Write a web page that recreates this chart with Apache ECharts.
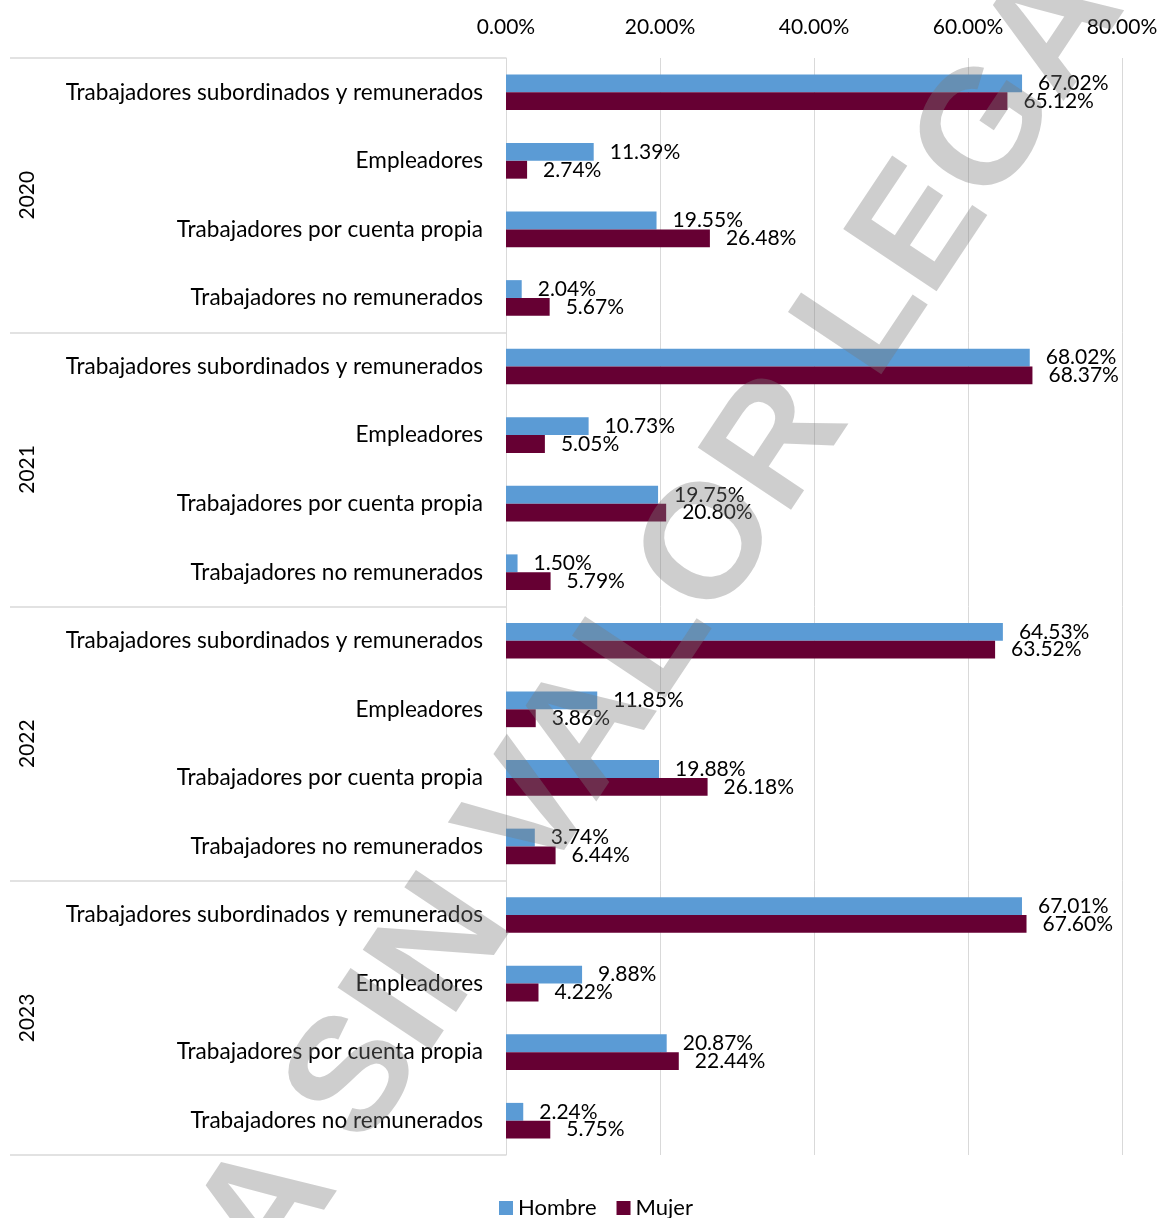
<!DOCTYPE html>
<html>
<head>
<meta charset="utf-8">
<script src="https://cdn.jsdelivr.net/npm/echarts@6/dist/echarts.min.js"></script>
<style>
html,body{margin:0;padding:0;background:#fff;}
#chart{width:1161px;height:1218px;}
</style>
</head>
<body>
<div id="chart"></div>
<script>
const years = ['2020', '2021', '2022', '2023'];
const groups = ['Trabajadores subordinados y remunerados', 'Empleadores', 'Trabajadores por cuenta propia', 'Trabajadores no remunerados'];
const hombre2020 = [67.02, 11.39, 19.55, 2.04];
const mujer2020  = [65.12, 2.74, 26.48, 5.67];
const hombre2021 = [68.02, 10.73, 19.75, 1.50];
const mujer2021  = [68.37, 5.05, 20.80, 5.79];
const hombre2022 = [64.53, 11.85, 19.88, 3.74];
const mujer2022  = [63.52, 3.86, 26.18, 6.44];
const hombre2023 = [67.01, 9.88, 20.87, 2.24];
const mujer2023  = [67.60, 4.22, 22.44, 5.75];
const xTicks = [0, 20, 40, 60, 80];
const watermarkText = 'COPIA SIN VALOR LEGAL';

const categories = [];
years.forEach(() => groups.forEach(g => categories.push(g)));
const hombre = [].concat(hombre2020, hombre2021, hombre2022, hombre2023);
const mujer = [].concat(mujer2020, mujer2021, mujer2022, mujer2023);

const FONT = 'Lato';
const chart = echarts.init(document.getElementById('chart'));
const pct = v => Number(v).toFixed(2) + '%';

chart.setOption({
  animation: false,
  backgroundColor: '#fff',
  textStyle: { fontFamily: FONT },
  grid: { left: 506, right: 39, top: 58, bottom: 63, containLabel: false },
  legend: {
    data: ['Hombre', 'Mujer'],
    left: 494, top: 1192,
    icon: 'rect', itemWidth: 14, itemHeight: 14, itemGap: 20,
    textStyle: { fontFamily: FONT, fontSize: 22, color: '#000' }
  },
  xAxis: {
    type: 'value', position: 'top',
    min: xTicks[0], max: xTicks[xTicks.length - 1], interval: xTicks[1] - xTicks[0],
    axisLine: { show: false }, axisTick: { show: false },
    axisLabel: { formatter: pct, fontFamily: FONT, fontSize: 21, color: '#000', margin: 20 },
    splitLine: { show: true, lineStyle: { color: '#d9d9d9', width: 1 } }
  },
  yAxis: [
    {
      type: 'category', inverse: true, data: categories,
      axisLine: { show: true, lineStyle: { color: '#d9d9d9' } },
      axisTick: { show: false },
      axisLabel: { interval: 0, fontFamily: FONT, fontSize: 22.6, color: '#000', margin: 23 }
    },
    {
      type: 'category', inverse: true, data: years, position: 'left', offset: 0,
      axisLine: { show: false },
      axisTick: { show: true, length: 496, interval: 0, lineStyle: { color: '#d9d9d9', width: 1.5 } },
      axisLabel: { interval: 0, rotate: 90, margin: 468, fontFamily: FONT, fontSize: 21, color: '#000' }
    }
  ],
  series: [
    {
      name: 'Hombre', type: 'bar', data: hombre, yAxisIndex: 0,
      barGap: '0%', barCategoryGap: '48%',
      itemStyle: { color: '#5b9bd5' },
      label: { show: true, position: 'right', distance: 16, formatter: p => pct(p.value), fontFamily: FONT, fontSize: 21, color: '#000' }
    },
    {
      name: 'Mujer', type: 'bar', data: mujer, yAxisIndex: 0,
      barGap: '0%', barCategoryGap: '48%',
      itemStyle: { color: '#660033' },
      label: { show: true, position: 'right', distance: 16, formatter: p => pct(p.value), fontFamily: FONT, fontSize: 21, color: '#000' }
    }
  ],
  graphic: [
    {
      type: 'text', x: 580, y: 745, rotation: 56.3 * Math.PI / 180, z: 100, silent: true,
      style: {
        text: watermarkText, x: 0, y: 0, align: 'center', verticalAlign: 'middle',
        textAlign: 'center', textVerticalAlign: 'middle',
        fontFamily: 'Liberation Sans', fontWeight: 'bold', fontSize: 163,
        fill: 'rgba(123,123,123,0.37)'
      }
    }
  ]
});
</script>
</body>
</html>
